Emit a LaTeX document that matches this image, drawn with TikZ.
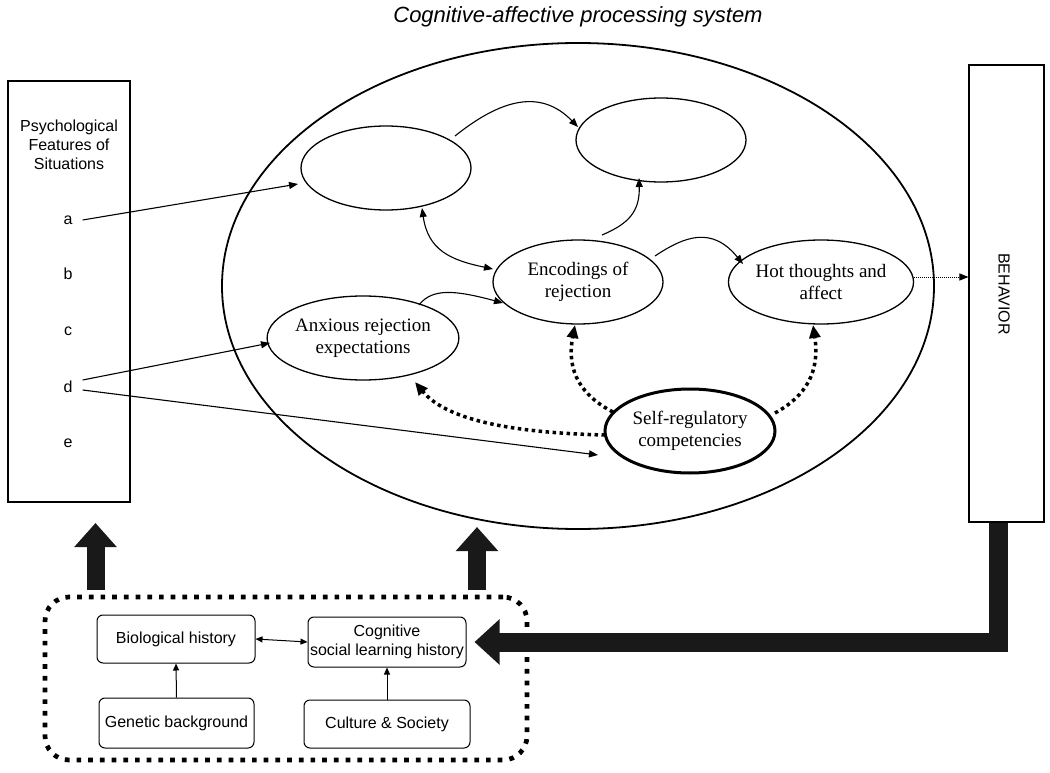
\documentclass[tikz,border=0pt]{standalone}
\usepackage{fontspec}
\setmainfont{Liberation Serif}
\setsansfont{Liberation Sans}
\usetikzlibrary{arrows.meta,shapes.geometric}
\begin{document}
\begin{tikzpicture}[x=1pt,y=-1pt,
  ell/.style={draw,ellipse,line width=1.3pt,inner sep=0pt,minimum width=170pt,minimum height=84pt,align=center,font=\fontsize{19}{21.5}\selectfont},
  sbox/.style={draw,rounded corners=6pt,line width=1pt,inner sep=0pt,align=center,font=\sffamily\fontsize{16}{19}\selectfont},
  lbl/.style={inner sep=0pt,font=\sffamily\fontsize{16}{19}\selectfont},
  conn/.style={line width=1.1pt,-{Triangle[length=9pt 0 0,width=7pt 0 0]}},
  dconn/.style={line width=1.1pt,{Triangle[length=9pt 0 0,width=7pt 0 0]}-{Triangle[length=9pt 0 0,width=7pt 0 0]}},
  sconn/.style={line width=1pt,-{Triangle[length=7pt 0 0,width=6pt 0 0]}},
  sdconn/.style={line width=1pt,{Triangle[length=7pt 0 0,width=6pt 0 0]}-{Triangle[length=7pt 0 0,width=6pt 0 0]}},
  hotdot/.style={line width=3.5pt,dash pattern=on 3.5pt off 3.5pt,-{Triangle[length=13pt 0 0,width=11pt 0 0]}},
  bigarrow/.style={draw=black!90,line width=18pt,line join=miter,-{Triangle[length=24pt 0 0,width=41pt 0 0]}}
]
\useasboundingbox (0,0) rectangle (1050,773);

% title
\node[font=\sffamily\itshape\fontsize{22}{26}\selectfont] (title) at (578,17) {Cognitive-affective processing system};

% big ellipse
\node[draw,ellipse,line width=1.8pt,inner sep=0pt,minimum width=712pt,minimum height=486pt] (big) at (578,286) {};

% left box
\node[draw,line width=1.1pt,minimum width=122pt,minimum height=421pt,inner sep=0pt] (feat) at (69,291.5) {};
\node[lbl,align=center] (feattxt) at (69,145) {Psychological\\Features of\\Situations};
\node[lbl] (a) at (68,220) {a};
\node[lbl] (b) at (68,274) {b};
\node[lbl] (c) at (68,331) {c};
\node[lbl] (d) at (68,387) {d};
\node[lbl] (e) at (68,443) {e};

% behavior box
\node[draw,line width=1.1pt,minimum width=75pt,minimum height=457pt,inner sep=0pt] (beh) at (1006.5,293.5) {};
\node[lbl,rotate=-90] (behtxt) at (1004,294) {BEHAVIOR};

% inner ellipses
\node[ell] (ul) at (386,168) {};
\node[ell] (ur) at (661,140) {};
\node[ell] (enc) at (578,282) {Encodings of\\rejection};
\node[ell] (anx) at (363,338) {Anxious rejection\\expectations};
\node[ell] (hot) at (821,282) {Hot thoughts and\\affect};
\node[ell,line width=3pt] (sr) at (690,431) {Self-regulatory\\competencies};

% thin connectors
\draw[conn] ([xshift=10pt]a.east) -- ([shift={(-88,16)}]ul.center);
\draw[conn] ([shift={(10,-7)}]d.east) -- ([shift={(-93,5)}]anx.center);
\draw[conn] ([shift={(10,3)}]d.east) -- ([shift={(-92,24)}]sr.center);
\draw[conn] ([shift={(69,-32)}]ul.center) .. controls (500,100) and (540,88) .. ([shift={(-83,-13)}]ur.center);
\draw[dconn] ([shift={(36,40)}]ul.center) .. controls (428,250) and (450,260) .. ([shift={(-85,-13)}]enc.center);
\draw[conn] ([shift={(24,-47)}]enc.center) .. controls (628,224) and (640,212) .. ([shift={(-22,38)}]ur.center);
\draw[conn] ([shift={(56,-33)}]anx.center) .. controls (432,288) and (455,290) .. ([shift={(-75,21)}]enc.center);
\draw[conn] ([shift={(77,-26)}]enc.center) .. controls (685,236) and (712,226) .. ([shift={(-78,-18)}]hot.center);
\coordinate (hb) at ([yshift=5pt]hot.east);
\draw[line width=1pt,dash pattern=on 1pt off 1pt,-{Triangle[length=9pt 0 0,width=7pt 0 0]}] (hb) -- (hb -| beh.west);

% thick dotted connectors
\draw[hotdot] ([shift={(-77,-19)}]sr.center) .. controls (582,396) and (566,372) .. ([shift={(-3,43)}]enc.center);
\draw[hotdot] ([shift={(-85,4)}]sr.center) .. controls (520,433) and (448,422) .. ([shift={(52,44)}]anx.center);
\draw[hotdot] ([shift={(85,-18)}]sr.center) .. controls (806,396) and (820,372) .. ([shift={(-8,43)}]hot.center);

% history box
\node[draw,rounded corners=24pt,line width=4.7pt,dash pattern=on 4.7pt off 7pt,minimum width=482pt,minimum height=163pt,inner sep=0pt] (hist) at (286,678.5) {};
\node[sbox,minimum width=158pt,minimum height=48pt] (bio) at (176,639) {Biological history};
\node[sbox,minimum width=158pt,minimum height=50pt] (cog) at (387,642) {Cognitive\\social learning history};
\node[sbox,minimum width=155pt,minimum height=50pt] (gen) at (176.5,723) {Genetic background};
\node[sbox,minimum width=166pt,minimum height=48pt] (cul) at (387,724) {Culture \& Society};
\draw[sdconn] (bio.east) -- (cog.west);
\draw[sconn] (gen.north) -- (bio.south);
\draw[sconn] (cul.north) -- (cog.south);

% big arrows
\coordinate (l0) at (95.5,590);
\coordinate (l1) at (95.5,523);
\coordinate (r0) at (477,590);
\coordinate (r1) at (477,527);
\draw[bigarrow] (l0) -- (l1);
\draw[bigarrow] (r0) -- (r1);
\draw[bigarrow,line width=19pt,-{Triangle[length=25pt 0 0,width=44pt 0 0]}] ([xshift=-8.5pt]beh.south) |- ([xshift=8pt]cog.east);
\end{tikzpicture}
\end{document}
